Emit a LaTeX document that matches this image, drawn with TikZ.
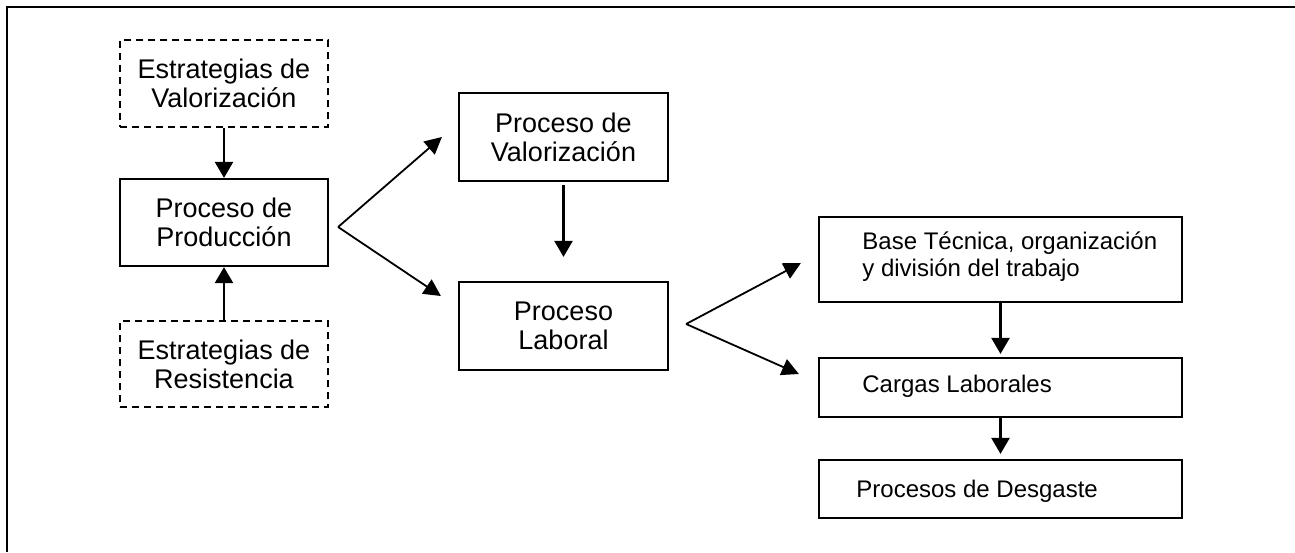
\documentclass[tikz,border=0pt]{standalone}
\usepackage{fontspec}
\setmainfont{Liberation Sans}
\usetikzlibrary{arrows.meta,calc}
\begin{document}
\begin{tikzpicture}[x=0.5pt,y=-0.5pt,
  box/.style={draw, line width=1.1pt, inner sep=0pt},
  dbox/.style={box, dash pattern=on 3.6pt off 2.4pt},
  lbl/.style={font=\fontsize{13.5}{14.5}\selectfont, align=center},
  rlbl/.style={font=\fontsize{12}{13.5}\selectfont, align=left, anchor=west, inner sep=0pt},
  arr/.style={line width=1.2pt, -{Triangle[length=8pt,width=9pt]}},
  fork/.style={line width=0.9pt, -{Triangle[length=8.5pt,width=8.5pt]}},
]
\useasboundingbox (0,0) rectangle (1295,552);
\draw[line width=0.7pt] (7,552) -- (7,7) -- (1295,7);

\node[dbox, minimum width=104pt, minimum height=43.5pt, lbl] (ev) at (224,83.5) {Estrategias de\\Valorización};
\node[box, minimum width=104pt, minimum height=43.5pt, lbl] (pp) at (224,222.5) {Proceso de\\Producción};
\node[dbox, minimum width=104pt, minimum height=43pt, lbl] (er) at (224,364) {Estrategias de\\Resistencia};
\node[box, minimum width=104.5pt, minimum height=44pt, lbl] (pv) at (563.5,137) {Proceso de\\Valorización};
\node[box, minimum width=104.5pt, minimum height=44pt, lbl] (pl) at (563.5,326) {Proceso\\Laboral};
\node[box, minimum width=181.5pt, minimum height=42.5pt] (bt) at (1000.5,259.5) {};
\node[box, minimum width=181.5pt, minimum height=29.5pt] (cl) at (1000.5,387.5) {};
\node[box, minimum width=181.5pt, minimum height=29pt] (pd) at (1000.5,489) {};
\node[rlbl] (btT) at (862,256.5) {Base Técnica, organización\\y división del trabajo};
\node[rlbl] (clT) at (862,386) {Cargas Laborales};
\node[rlbl] (pdT) at (856,491) {Procesos de Desgaste};

\draw[arr] (ev) -- (pp);
\draw[arr] (er) -- (pp);
\coordinate (f1) at ($(pp.east)+(9,4.5)$);
\coordinate (t1) at ($(pv.west)+(-16,0)$);
\coordinate (t2) at ($(pl.west)+(-17,-30)$);
\draw[fork] (f1) -- (t1);
\draw[fork] (f1) -- (t2);
\draw[arr, shorten <=1.5pt, shorten >=12pt] (pv) -- (pl);
\coordinate (f2) at ($(pl.east)+(17,-2)$);
\coordinate (t3) at ($(bt.west)+(-17,3.5)$);
\coordinate (t4) at ($(cl.west)+(-19,-13.5)$);
\draw[fork] (f2) -- (t3);
\draw[fork] (f2) -- (t4);
\draw[arr, shorten >=1.5pt] (bt) -- (cl);
\draw[arr, shorten >=2.5pt] (cl) -- (pd);
\end{tikzpicture}
\end{document}
